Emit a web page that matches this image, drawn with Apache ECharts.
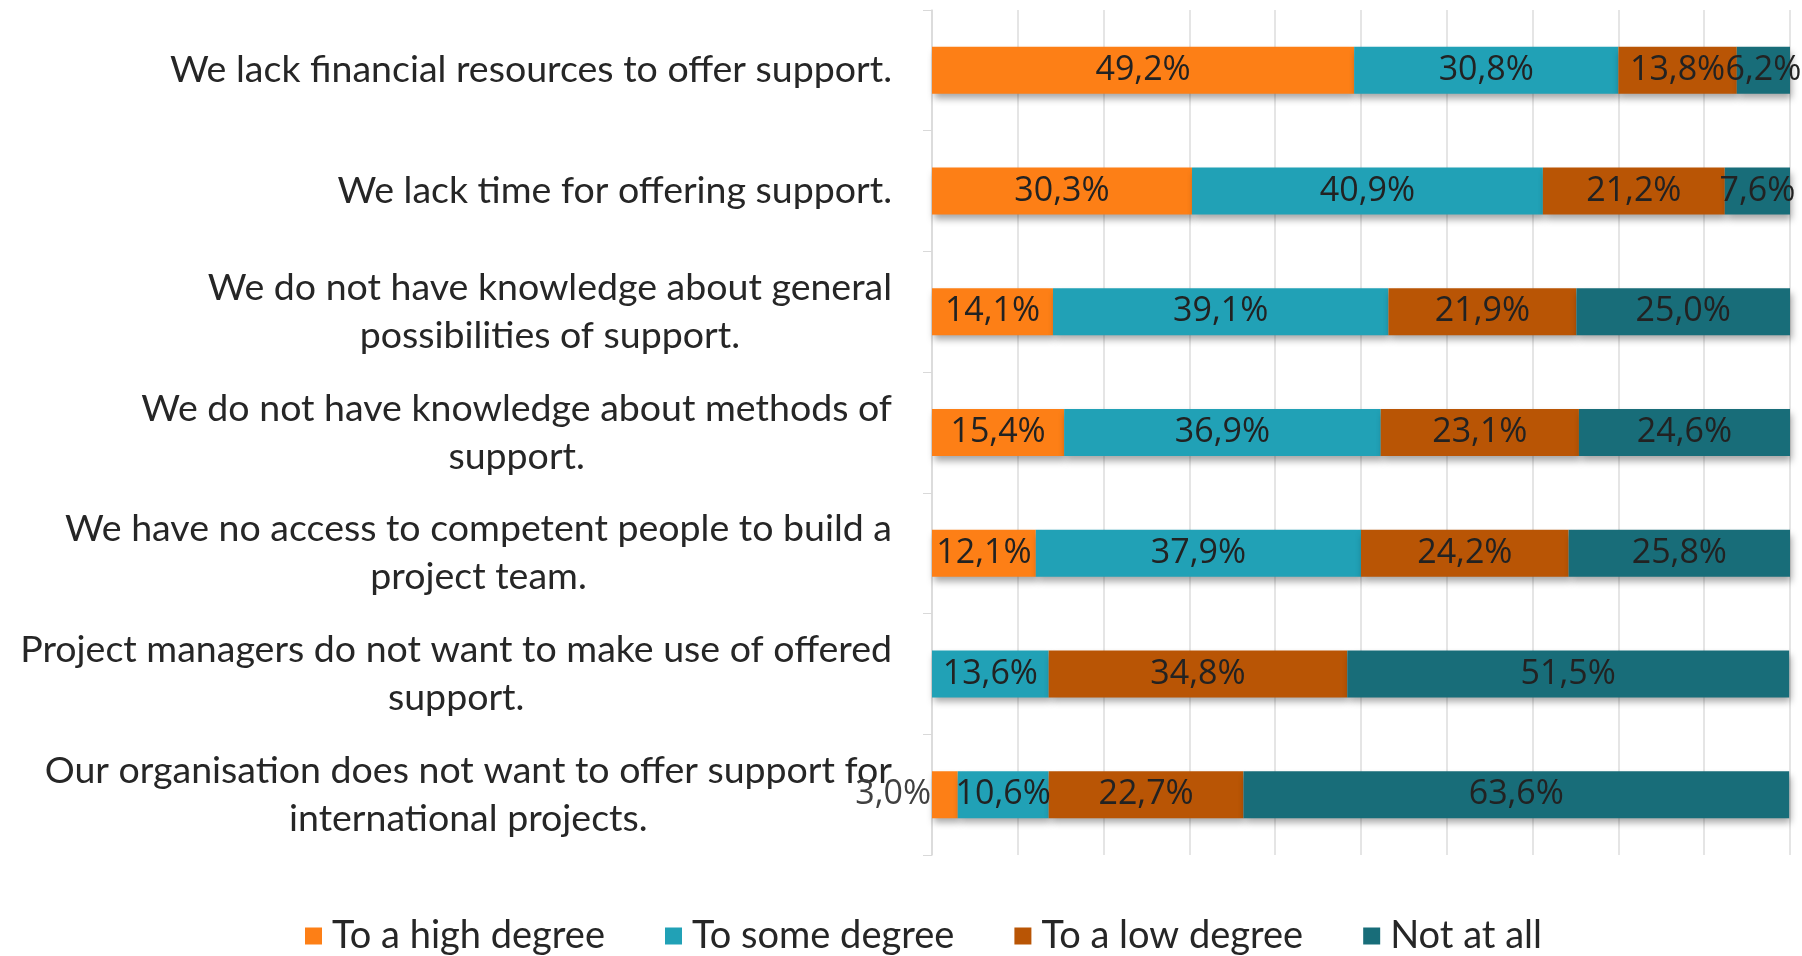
<!DOCTYPE html>
<html lang="en">
<head>
    <meta charset="UTF-8">
    <title>Barriers to support</title>
    <script src="https://cdn.jsdelivr.net/npm/echarts@6/dist/echarts.min.js"></script>
    <style>
      *{margin:0;padding:0}
      html,body{width:100%;height:100%;background:#fff}
      #main{width:1802px;height:956px}
    </style>
</head>
<body>
<div id="main"></div>
<script>
    // categories, top to bottom
    var categories = [
        'We lack financial resources to offer support.',
        'We lack time for offering support.',
        'We do not have knowledge about general\npossibilities of support.',
        'We do not have knowledge about methods of\nsupport.',
        'We have no access to competent people to build a\nproject team.',
        'Project managers do not want to make use of offered\nsupport.',
        'Our organisation does not want to offer support for\ninternational projects.'
    ];
    var seriesNames = ['To a high degree', 'To some degree', 'To a low degree', 'Not at all'];
    var highDegree = [49.2, 30.3, 14.1, 15.4, 12.1, 0, 3.0];
    var someDegree = [30.8, 40.9, 39.1, 36.9, 37.9, 13.6, 10.6];
    var lowDegree  = [13.8, 21.2, 21.9, 23.1, 24.2, 34.8, 22.7];
    var notAtAll   = [6.2, 7.6, 25.0, 24.6, 25.8, 51.5, 63.6];

    var colors = ['#fd7f16', '#21a1b6', '#b95505', '#186d79'];
    var textFont = "Lato, 'Open Sans', sans-serif";
    var numFont = "'Open Sans', sans-serif";

    var chart = echarts.init(document.getElementById('main'));

    function fmt(v) {
        return v.toFixed(1).replace('.', ',') + '%';
    }

    function makeSeries(name, values, i) {
        return {
            name: name,
            type: 'bar',
            stack: 'total',
            barWidth: 47,
            itemStyle: {
                color: colors[i],
                shadowColor: 'rgba(0,0,0,0.35)',
                shadowBlur: 7,
                shadowOffsetX: 2,
                shadowOffsetY: 5
            },
            label: {
                show: true,
                position: 'inside',
                color: '#222',
                fontFamily: numFont,
                fontSize: 34,
                formatter: function (p) {
                    return p.value > 0 ? fmt(p.value) : '';
                }
            },
            data: values.map(function (v) {
                // tiny slices get their label outside on the left, like the original
                if (v > 0 && v < 5 && i === 0) {
                    return {value: v, label: {position: 'left', distance: 1, color: '#404040'}};
                }
                return v;
            })
        };
    }

    var option = {
        backgroundColor: '#fff',
        animation: false,
        color: colors,
        grid: {left: 932, right: 12, top: 10, bottom: 101, containLabel: false},
        legend: {
            top: 912,
            left: 300,
            itemWidth: 17,
            itemHeight: 17,
            itemGap: 60,
            icon: 'rect',
            textStyle: {fontFamily: textFont, fontSize: 38, color: '#262626', padding: [0, 0, 0, 5]},
            data: seriesNames
        },
        xAxis: {
            type: 'value',
            min: 0,
            max: 100,
            interval: 10,
            axisLabel: {show: false},
            axisLine: {show: false},
            axisTick: {show: false},
            splitLine: {show: true, lineStyle: {color: '#dcdcdc', width: 1.5}}
        },
        yAxis: {
            type: 'category',
            inverse: true,
            data: categories,
            axisLine: {show: true, lineStyle: {color: '#d9d9d9', width: 1.5}},
            axisTick: {show: true, length: 9, lineStyle: {color: '#d9d9d9'}},
            axisLabel: {
                margin: 40,
                lineHeight: 48,
                fontFamily: textFont,
                fontSize: 37.5,
                color: '#262626',
                formatter: function (v) {
                    return v.split('\n').map(function (s) { return '{c|' + s + '}'; }).join('\n');
                },
                rich: {
                    c: {align: 'center', fontFamily: textFont, fontSize: 37.5, color: '#262626', lineHeight: 48}
                }
            }
        },
        series: [
            makeSeries(seriesNames[0], highDegree, 0),
            makeSeries(seriesNames[1], someDegree, 1),
            makeSeries(seriesNames[2], lowDegree, 2),
            makeSeries(seriesNames[3], notAtAll, 3)
        ]
    };
    chart.setOption(option);
</script>
</body>
</html>
